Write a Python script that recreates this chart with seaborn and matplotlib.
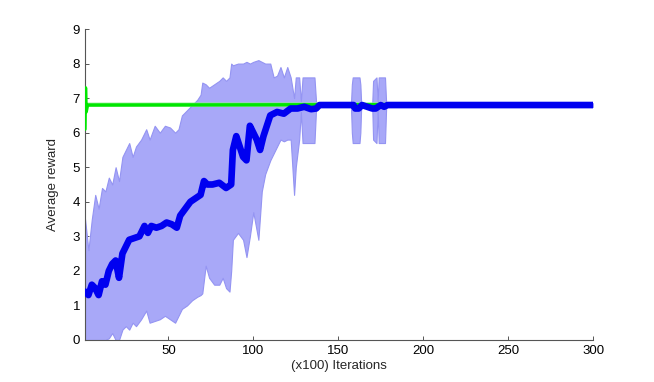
import numpy as np
import pandas as pd
import matplotlib
matplotlib.use("Agg")
import matplotlib.pyplot as plt
import seaborn as sns

# blue mean curve (iterations in units of 100)
mean_x = [1, 3, 5, 7, 9, 11, 13, 15, 17, 19, 21, 23, 25, 27, 30, 33, 36, 38, 40, 43,
          46, 49, 52, 55, 57, 60, 63, 66, 69, 71, 73, 76, 80, 84, 87, 88, 90, 92, 94, 96,
          98, 100, 102, 104, 106, 108, 110, 114, 118, 122, 126, 130, 134, 137, 139, 159,
          160, 162, 164, 170, 172, 175, 177, 179, 300]
mean_y = [1.4, 1.3, 1.6, 1.5, 1.3, 1.7, 1.6, 2.0, 2.2, 2.3, 1.8, 2.5, 2.7, 2.9, 2.95, 3.0, 3.3, 3.1, 3.3, 3.25,
          3.3, 3.4, 3.35, 3.25, 3.6, 3.8, 4.0, 4.1, 4.2, 4.6, 4.5, 4.5, 4.55, 4.4, 4.5, 5.5, 5.9, 5.6, 5.3, 5.2,
          6.2, 6.0, 5.8, 5.5, 5.9, 6.2, 6.5, 6.6, 6.55, 6.7, 6.7, 6.75, 6.68, 6.7, 6.8, 6.8,
          6.7, 6.7, 6.8, 6.7, 6.7, 6.8, 6.75, 6.8, 6.8]

# shaded band around the blue curve
band_x = [1, 3, 5, 7, 9, 11, 13, 15, 17, 19, 21, 23, 25, 27, 29, 31, 34, 37, 39, 42,
          45, 48, 51, 54, 56, 58, 61, 64, 67, 69, 70, 72, 74, 77, 80, 82, 84, 86, 87, 88,
          91, 94, 96, 98, 100, 103, 105, 107, 110, 112, 114, 116, 118, 120, 122, 123, 124, 125, 127, 128,
          129, 136, 137, 157.5, 158, 158.5, 162.5, 163, 163.5, 170, 170.5, 172.5, 173.2, 173.8, 177.5, 178.2, 300]
band_lo = [0.0, 0.0, 0.0, 0.0, 0.0, 0.0, 0.0, 0.05, 0.2, 0.0, 0.0, 0.3, 0.4, 0.3, 0.5, 0.4, 0.6, 0.85, 0.5, 0.55,
           0.6, 0.7, 0.6, 0.5, 0.7, 0.9, 1.0, 1.15, 1.25, 1.3, 1.35, 2.15, 1.8, 1.6, 1.6, 1.8, 1.5, 1.4, 2.0, 2.9,
           3.1, 2.9, 2.4, 3.0, 3.7, 2.9, 4.3, 4.8, 5.2, 5.4, 5.6, 5.8, 5.75, 5.8, 5.8, 5.0, 4.2, 5.0, 5.8, 6.6,
           5.7, 5.7, 6.75, 6.75, 6.0, 5.7, 5.7, 6.0, 6.75, 6.75, 5.8, 5.7, 6.7, 5.7, 5.7, 6.75, 6.75]
band_hi = [3.5, 2.6, 3.5, 4.2, 3.8, 4.4, 4.3, 4.7, 4.5, 5.0, 4.6, 5.3, 5.5, 5.7, 5.3, 5.6, 5.8, 6.1, 5.8, 6.2,
           6.0, 6.2, 6.15, 6.0, 6.1, 6.5, 6.65, 6.8, 6.95, 7.1, 7.45, 7.4, 7.3, 7.4, 7.5, 7.6, 7.5, 7.6, 8.0, 7.95,
           8.0, 8.0, 8.05, 8.0, 8.05, 8.1, 8.05, 8.0, 8.0, 7.6, 7.65, 7.9, 7.6, 7.9, 7.6, 7.3, 7.0, 7.6, 7.6, 6.9,
           7.6, 7.6, 6.85, 6.85, 7.4, 7.6, 7.6, 7.4, 6.85, 6.85, 7.5, 7.6, 6.9, 7.6, 7.6, 6.85, 6.85]

# green curve and its narrow band
green_x = [1, 1.3, 1.7, 2.5, 300]
green_y = [6.1, 7.3, 6.6, 6.8, 6.82]
green_lo = [5.5, 6.1, 6.7, 6.75, 6.76]
green_hi = [7.6, 7.3, 6.9, 6.87, 6.88]

xticks = [50, 100, 150, 200, 250, 300]
yticks = list(range(10))

sns.set_style("white")
plt.rcParams['font.family'] = ['Liberation Sans', 'DejaVu Sans']

fig = plt.figure(figsize=(6.54, 3.82), dpi=100)
ax = fig.add_axes([0.130, 0.110, 0.777, 0.814])

ax.fill_between(band_x, band_lo, band_hi, facecolor='#a8a8f8', edgecolor='#9494f2', linewidth=0.8, zorder=1)
ax.fill_between(green_x, green_lo, green_hi, facecolor='#8ff08f', edgecolor='none', zorder=2)

green = pd.DataFrame({'x': green_x, 'y': green_y})
blue = pd.DataFrame({'x': mean_x, 'y': mean_y})
sns.lineplot(data=green, x='x', y='y', ax=ax, color='#00e600', linewidth=2.4, estimator=None, zorder=3)
sns.lineplot(data=blue, x='x', y='y', ax=ax, color='#0000f0', linewidth=4.8, estimator=None, zorder=4)

ax.set_xlim(1, 300)
ax.set_ylim(0, 9)
ax.set_xticks(xticks)
ax.set_yticks(yticks)
ax.tick_params(direction='in', length=3, width=0.7, labelsize=9.5, colors='#555555',
               labelcolor='black', left=True, bottom=True)
for s in ['top', 'right']:
    ax.spines[s].set_visible(False)
for s in ['left', 'bottom']:
    ax.spines[s].set_color('#555555')
    ax.spines[s].set_linewidth(0.8)

ax.set_xlabel("(x100) Iterations", fontsize=9.5, labelpad=2)
ax.set_ylabel("Average reward", fontsize=9.5, labelpad=10)

fig.savefig("out.png", dpi=100)
